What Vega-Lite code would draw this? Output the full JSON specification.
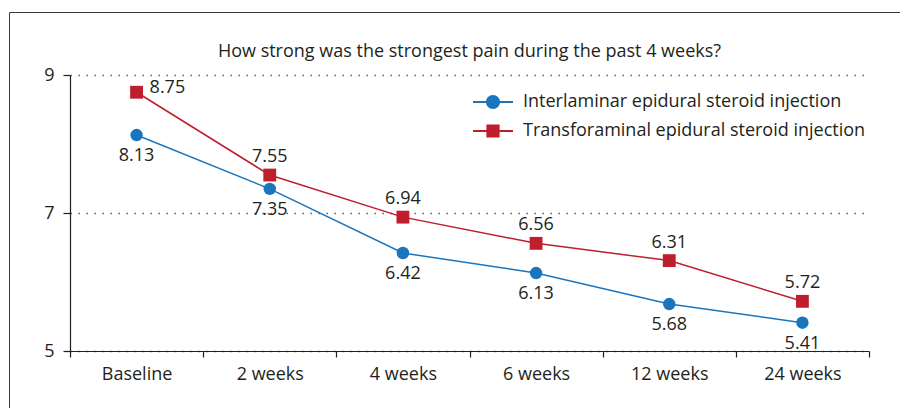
{
  "$schema": "https://vega.github.io/schema/vega-lite/v6.json",
  "width": 799,
  "height": 276,
  "autosize": {"type": "none"},
  "padding": {"left": 70, "top": 75, "right": 31, "bottom": 57},
  "background": "white",
  "config": {
    "view": {"stroke": null},
    "font": "Open Sans",
    "axis": {"labelFont": "Open Sans", "labelFontSize": 18, "labelColor": "#231f20", "domainColor": "#231f20", "tickColor": "#231f20", "domainWidth": 1.2, "tickWidth": 1.2}
  },
  "title": {"text": "How strong was the strongest pain during the past 4 weeks?", "font": "Open Sans", "fontSize": 18, "fontWeight": "normal", "color": "#231f20", "anchor": "middle", "frame": "group", "offset": -49},
  "data": {"values": [
    {"time": "Baseline", "series": "Interlaminar epidural steroid injection", "value": 8.13},
    {"time": "2 weeks", "series": "Interlaminar epidural steroid injection", "value": 7.35},
    {"time": "4 weeks", "series": "Interlaminar epidural steroid injection", "value": 6.42},
    {"time": "6 weeks", "series": "Interlaminar epidural steroid injection", "value": 6.13},
    {"time": "12 weeks", "series": "Interlaminar epidural steroid injection", "value": 5.68},
    {"time": "24 weeks", "series": "Interlaminar epidural steroid injection", "value": 5.41},
    {"time": "Baseline", "series": "Transforaminal epidural steroid injection", "value": 8.75},
    {"time": "2 weeks", "series": "Transforaminal epidural steroid injection", "value": 7.55},
    {"time": "4 weeks", "series": "Transforaminal epidural steroid injection", "value": 6.94},
    {"time": "6 weeks", "series": "Transforaminal epidural steroid injection", "value": 6.56},
    {"time": "12 weeks", "series": "Transforaminal epidural steroid injection", "value": 6.31},
    {"time": "24 weeks", "series": "Transforaminal epidural steroid injection", "value": 5.72}
  ]},
  "encoding": {
    "x": {"field": "time", "type": "nominal", "sort": ["Baseline", "2 weeks", "4 weeks", "6 weeks", "12 weeks", "24 weeks"],
      "scale": {"type": "band", "paddingInner": 0, "paddingOuter": 0},
      "axis": {"title": null, "labelAngle": 0, "tickBand": "extent", "tickSize": 6, "labelPadding": 8, "grid": false}},
    "y": {"field": "value", "type": "quantitative",
      "scale": {"domain": [5, 9], "nice": false, "zero": false},
      "axis": {"title": null, "values": [5, 7, 9], "tickSize": 7, "labelPadding": 9, "grid": true, "gridDash": [1.3, 6.7], "gridColor": "#444444", "gridWidth": 1.3}}
  },
  "layer": [
    {
      "transform": [{"filter": "datum.series === 'Interlaminar epidural steroid injection'"}],
      "mark": {"type": "line", "strokeWidth": 1.5, "color": "#1b75bc"}
    },
    {
      "transform": [{"filter": "datum.series === 'Transforaminal epidural steroid injection'"}],
      "mark": {"type": "line", "strokeWidth": 1.5, "color": "#be1e2d"}
    },
    {
      "transform": [{"filter": "datum.series === 'Interlaminar epidural steroid injection'"}],
      "mark": {"type": "point", "shape": "circle", "filled": true, "size": 155, "color": "#1b75bc", "opacity": 1}
    },
    {
      "transform": [{"filter": "datum.series === 'Transforaminal epidural steroid injection'"}],
      "mark": {"type": "point", "shape": "square", "filled": true, "size": 165, "color": "#be1e2d", "opacity": 1}
    },
    {
      "transform": [{"filter": "datum.series === 'Interlaminar epidural steroid injection'"}],
      "mark": {"type": "text", "dy": 21, "fontSize": 18, "font": "Open Sans", "color": "#231f20"},
      "encoding": {"text": {"field": "value", "type": "quantitative", "format": ".2f"}}
    },
    {
      "transform": [{"filter": "datum.series === 'Transforaminal epidural steroid injection' && datum.time !== 'Baseline'"}],
      "mark": {"type": "text", "dy": -18, "fontSize": 18, "font": "Open Sans", "color": "#231f20"},
      "encoding": {"text": {"field": "value", "type": "quantitative", "format": ".2f"}}
    },
    {
      "transform": [{"filter": "datum.series === 'Transforaminal epidural steroid injection' && datum.time === 'Baseline'"}],
      "mark": {"type": "text", "align": "left", "dx": 13, "dy": -4, "fontSize": 18, "font": "Open Sans", "color": "#231f20"},
      "encoding": {"text": {"field": "value", "type": "quantitative", "format": ".2f"}}
    },
    {
      "transform": [{"filter": "false"}],
      "mark": {"type": "point", "filled": true, "opacity": 1},
      "encoding": {
        "color": {"field": "series", "type": "nominal",
          "scale": {"domain": ["Interlaminar epidural steroid injection", "Transforaminal epidural steroid injection"], "range": ["#1b75bc", "#be1e2d"]},
          "legend": {"orient": "none", "legendX": 403, "legendY": 7, "direction": "vertical", "title": null,
            "symbolSize": 1600, "symbolStrokeWidth": 0, "symbolOpacity": 1, "rowPadding": -6,
            "labelFont": "Open Sans", "labelFontSize": 18, "labelColor": "#231f20", "labelOffset": 10, "labelLimit": 500}},
        "shape": {"field": "series", "type": "nominal",
          "scale": {"domain": ["Interlaminar epidural steroid injection", "Transforaminal epidural steroid injection"],
            "range": ["M-1,-0.05H1V0.05H-1Z M0.35,0A0.35,0.35,0,1,1,-0.35,0A0.35,0.35,0,1,1,0.35,0Z", "M-1,-0.05H1V0.05H-1Z M-0.33,-0.33H0.33V0.33H-0.33Z"]}},
        "size": {"field": "value", "type": "quantitative", "scale": {"domain": [5, 9]},
          "legend": {"orient": "none", "legendX": -61, "legendY": -63, "padding": 600, "strokeColor": "#3a3a3a", "title": null,
            "symbolOpacity": 0, "labelExpr": "''", "values": [5],
            "encode": {"legend": {"update": {"strokeWidth": {"value": 2}}}}}}
      }
    }
  ]
}
